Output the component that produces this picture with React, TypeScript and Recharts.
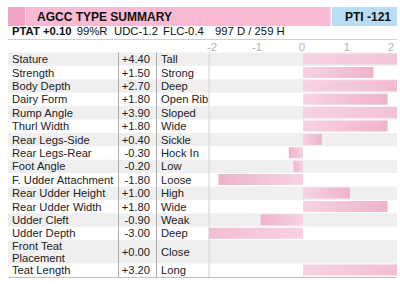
import React from "react";
import { BarChart, Bar, XAxis, YAxis, ReferenceArea, Cell } from "recharts";

const traitNames = [
  "Stature",
  "Strength",
  "Body Depth",
  "Dairy Form",
  "Rump Angle",
  "Thurl Width",
  "Rear Legs-Side",
  "Rear Legs-Rear",
  "Foot Angle",
  "F. Udder Attachment",
  "Rear Udder Height",
  "Rear Udder Width",
  "Udder Cleft",
  "Udder Depth",
  "Front Teat\nPlacement",
  "Teat Length",
];
const traitValues = [4.4, 1.5, 2.7, 1.8, 3.9, 1.8, 0.4, -0.3, -0.2, -1.8, 1.0, 1.8, -0.9, -3.0, 0.0, 3.2];
const traitLabels = [
  "Tall",
  "Strong",
  "Deep",
  "Open Rib",
  "Sloped",
  "Wide",
  "Sickle",
  "Hock In",
  "Low",
  "Loose",
  "High",
  "Wide",
  "Weak",
  "Deep",
  "Close",
  "Long",
];
const axisTicks = [-2, -1, 0, 1, 2];
const title = "AGCC TYPE SUMMARY";
const ptiText = "PTI -121";
const ptatText = "PTAT +0.10";
const summaryItems = ["99%R", "UDC-1.2", "FLC-0.4", "997 D /  259 H"];

const FONT = "Arial, 'Liberation Sans', sans-serif";
const ROW_H = 13.4;
const EXTRA_LINE_H = 10;
const TABLE_LEFT = 8;
const RIGHT_EDGE = 397;
const TEXT_COLOR = "#222";
const GRAY = "#efefef";

type Row = { name: string; value: number; label: string; top: number; h: number; mid: number; lines: string[] };

const rows: Row[] = (() => {
  let acc = 0;
  return traitNames.map((n, i) => {
    const lines = n.split("\n");
    const h = ROW_H + (lines.length - 1) * EXTRA_LINE_H;
    const r = { name: n, value: traitValues[i], label: traitLabels[i], top: acc, h, mid: acc + h / 2, lines };
    acc += h;
    return r;
  });
})();
const totalH = rows[rows.length - 1].top + rows[rows.length - 1].h;
const chartData = rows.map((r) => ({ mid: r.mid, value: r.value }));

const PLOT_TOP = 52.5;
const fmt = (v: number) => (v >= 0 ? "+" + v.toFixed(2) : v.toFixed(2));

const RowTick = (props: any) => {
  const { y, payload } = props;
  const idx = rows.findIndex((r) => Math.abs(r.mid - payload.value) < 1e-6);
  if (idx < 0) return null;
  const r = rows[idx];
  const top = y - r.h / 2;
  const bottom = y + r.h / 2;
  const fs = 11.2;
  return (
    <g>
      {idx % 2 === 0 && <rect x={TABLE_LEFT} y={top} width={208 - TABLE_LEFT} height={r.h} fill={GRAY} />}
      <line x1={118.5} x2={118.5} y1={top} y2={bottom} stroke="#aaa" />
      <line x1={156.5} x2={156.5} y1={top} y2={bottom} stroke="#aaa" />
      <text x={12} y={y} fontSize={fs} fontFamily={FONT} fill={TEXT_COLOR}>
        {r.lines.map((ln, k) => (
          <tspan key={k} x={12} y={y + 4 + (k - (r.lines.length - 1) / 2) * 11.5}>
            {ln}
          </tspan>
        ))}
      </text>
      <text x={150} y={y + 4} fontSize={fs} fontFamily={FONT} fill={TEXT_COLOR} textAnchor="end">
        {fmt(r.value)}
      </text>
      <text x={161} y={y + 4} fontSize={fs} fontFamily={FONT} fill={TEXT_COLOR}>
        {r.label}
      </text>
      {idx === rows.length - 1 && (
        <line x1={TABLE_LEFT} x2={RIGHT_EDGE} y1={bottom + 0.5} y2={bottom + 0.5} stroke="#bbb" />
      )}
    </g>
  );
};

const ValueTick = (props: any) => {
  const { x, y, payload } = props;
  const v = payload.value as number;
  return (
    <text x={x - 2 * v - 1} y={y} fontSize={11.5} fontFamily={FONT} fill="#b5b5b5" textAnchor="middle">
      {v}
    </text>
  );
};

export default function App() {
  return (
    <div style={{ position: "absolute", left: 0, top: 0, width: 400, height: 286, background: "#fff" }}>
      <svg width={0} height={0} style={{ position: "absolute" }}>
        <defs>
          <linearGradient id="gradPos" x1="0" y1="0" x2="1" y2="0">
            <stop offset="0%" stopColor="#f7d2e2" />
            <stop offset="100%" stopColor="#efb3cc" />
          </linearGradient>
          <linearGradient id="gradNeg" x1="0" y1="0" x2="1" y2="0">
            <stop offset="0%" stopColor="#efb3cc" />
            <stop offset="100%" stopColor="#f7d2e2" />
          </linearGradient>
        </defs>
      </svg>
      <svg width={400} height={52} style={{ position: "absolute", left: 0, top: 0 }}>
        <rect x={8} y={7} width={17} height={19} fill="#f3a5c5" />
        <rect x={25} y={7} width={1} height={19} fill="#fbd0e2" />
        <rect x={26} y={7} width={304.5} height={19} fill="#f9bad4" />
        <rect x={332} y={7} width={65} height={19} fill="#b9ddf3" />
        <text x={37} y={20.5} fontSize={12} fontWeight="bold" fontFamily={FONT} fill="#111">
          {title}
        </text>
        <text x={391} y={20.5} fontSize={12} fontWeight="bold" fontFamily={FONT} fill="#111" textAnchor="end">
          {ptiText}
        </text>
        <text y={34.5} fontSize={11.3} fontFamily={FONT} fill="#111">
          <tspan x={12} fontWeight="bold">
            {ptatText}
          </tspan>
          <tspan x={76.7}>{summaryItems[0]}</tspan>
          <tspan x={114}>{summaryItems[1]}</tspan>
          <tspan x={163}>{summaryItems[2]}</tspan>
          <tspan x={215}>{summaryItems[3]}</tspan>
        </text>
        <line x1={8} x2={RIGHT_EDGE} y1={39.5} y2={39.5} stroke="#d0d0d0" />
      </svg>
      <div style={{ position: "absolute", left: 0, top: 0 }}>
        <BarChart
          width={400}
          height={286}
          data={chartData}
          layout="vertical"
          margin={{ top: 39, right: 400 - RIGHT_EDGE, bottom: 286 - PLOT_TOP - totalH, left: 0 }}
          barSize={11}
        >
          <XAxis
            type="number"
            orientation="top"
            domain={[-2, 2]}
            allowDataOverflow
            ticks={axisTicks}
            height={PLOT_TOP - 39}
            axisLine={false}
            tickLine={false}
            tickSize={0}
            tickMargin={2}
            tick={<ValueTick />}
          />
          <YAxis
            type="number"
            dataKey="mid"
            domain={[0, totalH]}
            allowDataOverflow
            ticks={rows.map((r) => r.mid)}
            interval={0}
            width={209}
            tickLine={false}
            axisLine={{ stroke: "#cfcfcf" }}
            tick={<RowTick />}
          />
          {rows.map((r, i) =>
            i % 2 === 0 ? (
              <ReferenceArea
                key={"bg" + i}
                y1={r.top}
                y2={r.top + r.h}
                fill={GRAY}
                fillOpacity={1}
                stroke="none"
                ifOverflow="visible"
              />
            ) : null
          )}
          <Bar dataKey="value" isAnimationActive={false}>
            {chartData.map((d, i) => (
              <Cell key={i} fill={d.value >= 0 ? "url(#gradPos)" : "url(#gradNeg)"} />
            ))}
          </Bar>
        </BarChart>
      </div>
    </div>
  );
}
